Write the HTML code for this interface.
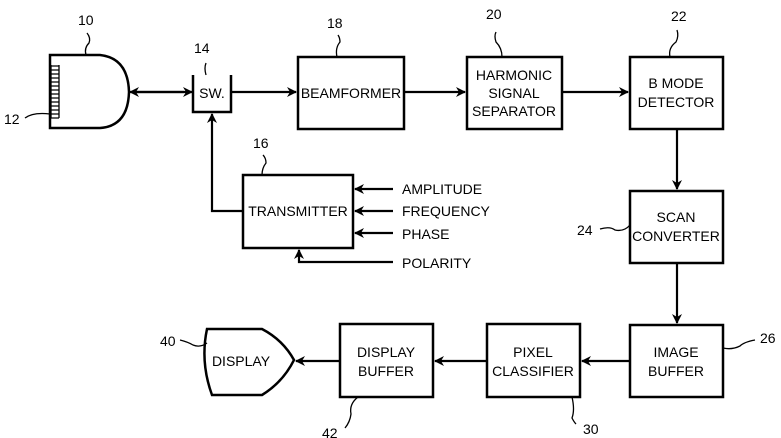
<!DOCTYPE html>
<html><head><style>body{margin:0;background:#fff}svg{display:block}text{font-family:"Liberation Sans Narrow","Liberation Sans",sans-serif;font-size:14px;fill:#000}</style></head>
<body>
<svg width="781" height="438" viewBox="0 0 781 438" xmlns="http://www.w3.org/2000/svg">
<defs><marker id="a" markerWidth="10" markerHeight="10" refX="9" refY="5" orient="auto" markerUnits="userSpaceOnUse"><path d="M0,0 L10,5 L0,10 L3,5 Z" fill="#000"/></marker></defs>
<g stroke="#000" stroke-width="2.5" fill="none">
<!-- transducer -->
<path d="M50,55 H100 Q128,58 129,92 Q128,126 100,128 H50 Z"/>
<!-- SW -->
<path d="M193,75 V112 H231 V75"/>
<rect x="298" y="57" width="106" height="72"/>
<rect x="467" y="57" width="95" height="72"/>
<rect x="630" y="57" width="93" height="72"/>
<rect x="630" y="191" width="93" height="72"/>
<rect x="630" y="325" width="93" height="72"/>
<rect x="487" y="324" width="93" height="73"/>
<rect x="340" y="324" width="93" height="73"/>
<rect x="243" y="175" width="110" height="73"/>
<path d="M207,329 H262 Q283,340 294,360 Q283,382 262,395 H212 Q200,362 207,329 Z"/>
</g>
<g stroke="#000" stroke-width="1.3" fill="none">
<path d="M51,65 V118 M51,66 H59 M51,70 H59 M51,74 H59 M51,78 H59 M51,82 H59 M51,86 H59 M51,90 H59 M51,94 H59 M51,98 H59 M51,102 H59 M51,106 H59 M51,110 H59 M51,114 H59 M51,118 H59 M59,65 V118"/>
<path d="M86,55 Q84,48 89,43 Q91,38 87,33"/>
<path d="M25,118 Q33,112 50,114"/>
<path d="M206,75 Q204,68 206,63"/>
<path d="M337,57 Q335,48 340,42 Q340,38 338,35"/>
<path d="M502,57 Q502,48 496,42 Q494,36 496,32"/>
<path d="M670,57 Q668,48 676,42 Q679,36 677,30"/>
<path d="M262,175 Q262,168 266,163 Q266,158 263,155"/>
<path d="M600,229 Q610,226 615,230 Q624,232 630,225"/>
<path d="M723,348 Q732,350 740,346 Q744,342 755,340"/>
<path d="M572,397 Q575,410 572,418 Q574,422 576,424"/>
<path d="M358,397 Q349,404 351,414 Q350,422 345,428"/>
<path d="M180,340 Q188,342 193,345 Q200,348 207,343"/>
</g>
<g stroke="#000" stroke-width="2.2" fill="none">
<line x1="137" y1="92" x2="192" y2="92" marker-end="url(#a)"/>
<line x1="184" y1="92" x2="130" y2="92" marker-end="url(#a)"/>
<line x1="231" y1="92" x2="296" y2="92" marker-end="url(#a)"/>
<line x1="404" y1="92" x2="465" y2="92" marker-end="url(#a)"/>
<line x1="562" y1="92" x2="628" y2="92" marker-end="url(#a)"/>
<line x1="677" y1="129" x2="677" y2="189" marker-end="url(#a)"/>
<line x1="677" y1="263" x2="677" y2="323" marker-end="url(#a)"/>
<line x1="630" y1="361" x2="582" y2="361" marker-end="url(#a)"/>
<line x1="487" y1="361" x2="435" y2="361" marker-end="url(#a)"/>
<line x1="340" y1="361" x2="296" y2="361" marker-end="url(#a)"/>
<path d="M243,211 H212 V114" marker-end="url(#a)"/>
<line x1="393" y1="189" x2="355" y2="189" marker-end="url(#a)"/>
<line x1="393" y1="211" x2="355" y2="211" marker-end="url(#a)"/>
<line x1="393" y1="233" x2="355" y2="233" marker-end="url(#a)"/>
<path d="M393,262 H299 V250" marker-end="url(#a)"/>
</g>
<text x="78" y="25">10</text>
<text x="4" y="124">12</text>
<text x="194" y="53">14</text>
<text x="327" y="28">18</text>
<text x="486" y="19">20</text>
<text x="671" y="21">22</text>
<text x="253" y="148">16</text>
<text x="577" y="235">24</text>
<text x="760" y="343">26</text>
<text x="583" y="434">30</text>
<text x="160" y="346">40</text>
<text x="322" y="438">42</text>
<g text-anchor="middle">
<text x="212" y="98">SW.</text>
<text x="351" y="98">BEAMFORMER</text>
<text x="514" y="80">HARMONIC</text>
<text x="514" y="98">SIGNAL</text>
<text x="514" y="116">SEPARATOR</text>
<text x="676" y="88">B MODE</text>
<text x="676" y="107">DETECTOR</text>
<text x="676" y="222">SCAN</text>
<text x="676" y="241">CONVERTER</text>
<text x="676" y="357">IMAGE</text>
<text x="676" y="376">BUFFER</text>
<text x="533" y="357">PIXEL</text>
<text x="533" y="376">CLASSIFIER</text>
<text x="386" y="357">DISPLAY</text>
<text x="386" y="376">BUFFER</text>
<text x="241" y="366">DISPLAY</text>
<text x="298" y="216">TRANSMITTER</text>
</g>
<text x="402" y="194">AMPLITUDE</text>
<text x="402" y="216">FREQUENCY</text>
<text x="402" y="239">PHASE</text>
<text x="402" y="268">POLARITY</text>
</svg>
</body></html>
